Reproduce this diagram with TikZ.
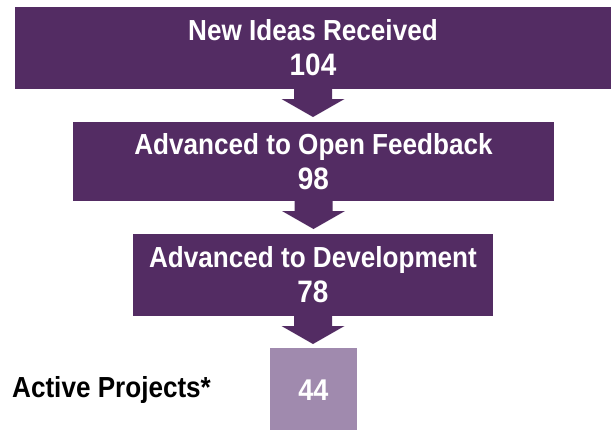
\documentclass[tikz,border=0pt]{standalone}
\usepackage{fontspec}
\setmainfont{Liberation Sans}[FakeStretch=0.9]
\usetikzlibrary{calc}
\definecolor{darkpurple}{RGB}{83,44,99}
\definecolor{lightpurple}{RGB}{160,138,174}
\tikzset{
  stagebox/.style={fill=darkpurple, text=white, inner sep=0pt, outer sep=0pt,
    align=center, font=\fontsize{29}{35}\selectfont\bfseries},
  resultbox/.style={fill=lightpurple, text=white, inner sep=0pt, outer sep=0pt,
    align=center, font=\fontsize{30}{35}\selectfont\bfseries},
  blockarrow/.style={fill=darkpurple}
}
\newcommand{\blockarrowfrom}[1]{%
  \fill[blockarrow] ($(#1.south)+(-19,0)$) -- ($(#1.south)+(19,0)$) --
    ($(#1.south)+(19,10)$) -- ($(#1.south)+(31.5,10)$) --
    ($(#1.south)+(0,28)$) -- ($(#1.south)+(-31.5,10)$) --
    ($(#1.south)+(-19,10)$) -- cycle;}
\begin{document}
\begin{tikzpicture}[x=1pt,y=-1pt]
\useasboundingbox (0,0) rectangle (613,429);
\node[stagebox, minimum width=596pt, minimum height=82pt] (b1) at (313,48)
  {New Ideas Received\\{\fontsize{31}{35}\selectfont 104}};
\node[stagebox, minimum width=481pt, minimum height=79pt] (b2) at (313.5,161.5)
  {Advanced to Open Feedback\\{\fontsize{31}{35}\selectfont 98}};
\node[stagebox, minimum width=360pt, minimum height=82pt] (b3) at (313,275)
  {Advanced to Development\\{\fontsize{31}{35}\selectfont 78}};
\node[resultbox, minimum width=87pt, minimum height=84pt] (b4) at (313.5,390)
  {44};
\node[anchor=west, inner sep=0pt, font=\fontsize{29}{35}\selectfont\bfseries]
  (lbl) at (12,390) {Active Projects*};
\blockarrowfrom{b1}
\blockarrowfrom{b2}
\blockarrowfrom{b3}
\end{tikzpicture}
\end{document}
